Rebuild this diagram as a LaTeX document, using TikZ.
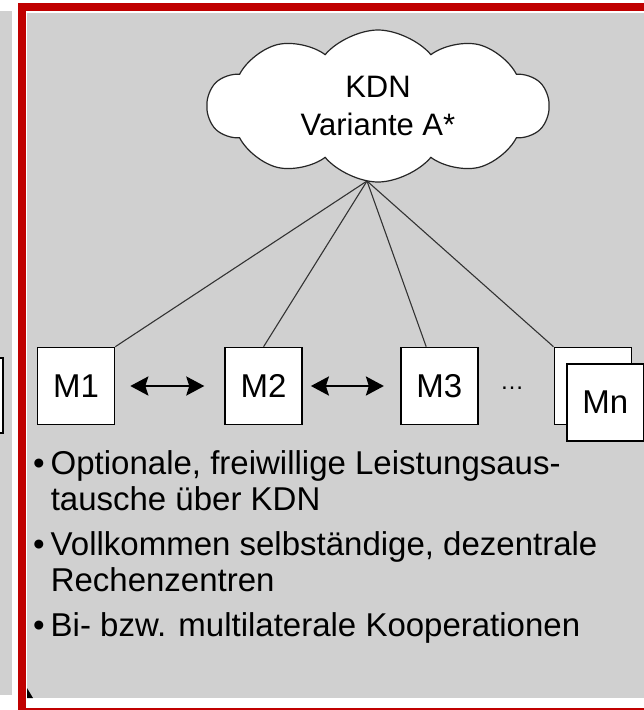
\documentclass[tikz,border=0pt]{standalone}
\usepackage{fontspec}
\setmainfont{Liberation Sans}
\usepackage{tikz}
\usetikzlibrary{arrows.meta}
\usetikzlibrary{shapes.symbols}
\usetikzlibrary{positioning}
\definecolor{panelgray}{RGB}{208,208,208}
\definecolor{framered}{RGB}{192,0,0}
\tikzset{
  every picture/.style={font={\fontsize{33}{36}\selectfont}, >=Stealth}}

\begin{document}
\begin{tikzpicture}[x=1pt, y=-1pt,
    member/.style={draw, fill=white, line width=1.6pt, minimum width=77pt,
      minimum height=77pt, inner sep=0pt},
    link/.style={draw=black!80, line width=1.1pt},
    swap/.style={line width=2.4pt,
      arrows={Stealth[length=18pt, width=19pt, inset=3pt]-Stealth[length=18pt, width=19pt, inset=3pt]}},
    point/.style={align=left, inner sep=0pt}]

    % panel and frame
    \useasboundingbox (0,0) rectangle (644,710);
    \fill[white] (0,0) rectangle (644,710);
    \fill[panelgray] (0,11) rectangle (12,695);
    \draw[line width=1.6pt, fill=white] (-60,358) rectangle (3,433);
    \fill[panelgray] (27,13) rectangle (644,698);
    \draw[framered, line width=8pt] (22,7) rectangle (660,712);
    \fill (27,688) -- (33,698) -- (27,698) -- cycle;

    \node[member] (M1) at (76,386) {M1};
    \node[member] (M2) [right=109pt of M1] {M2};
    \node[member] (M3) [right=97pt of M2] {M3};
    \node[member] (Mb) [right=75pt of M3] {};
    \node[member, anchor=north west] (Mn) at (566,363) {Mn};
    \node[anchor=base] (dots) at (512,389) {\fontsize{24}{24}\selectfont…};

    \coordinate (hub) at (367,181);
    \path[link] (hub) edge (M1.north east) edge (M2.north)
      edge ([xshift=-13pt]M3.north) edge (Mb.north west);

    \node[cloud, draw=black!85, fill=white, line width=1.2pt, cloud puffs=10,
      cloud puff arc=100, cloud ignores aspect, minimum width=341pt,
      minimum height=152pt, align=center,
      font={\fontsize{31}{35}\selectfont}] (KDN) at (378,106)
      {KDN\\[3pt]Variante A*};

    \draw[swap, shorten <=15pt, shorten >=20pt] (M1) -- (M2);
    \draw[swap, shorten <=8pt, shorten >=16pt] (M2) -- (M3);

    \node[point, anchor=base west] (P1) at (33,474)
      {\begin{tabular}[t]{@{}l@{\hspace{6pt}}l@{}}•&Optionale, freiwillige Leistungsaus-\\&tausche über KDN\end{tabular}};
    \node[point] (P2) [below right=9pt and 0pt of P1.south west]
      {\begin{tabular}[t]{@{}l@{\hspace{6pt}}l@{}}•&Vollkommen selbständige, dezentrale\\&Rechenzentren\end{tabular}};
    \node[point] (P3) [below right=9pt and 0pt of P2.south west]
      {\begin{tabular}[t]{@{}l@{\hspace{6pt}}l@{}}•&Bi- bzw. multilaterale Kooperationen\end{tabular}};
\end{tikzpicture}
\end{document}
